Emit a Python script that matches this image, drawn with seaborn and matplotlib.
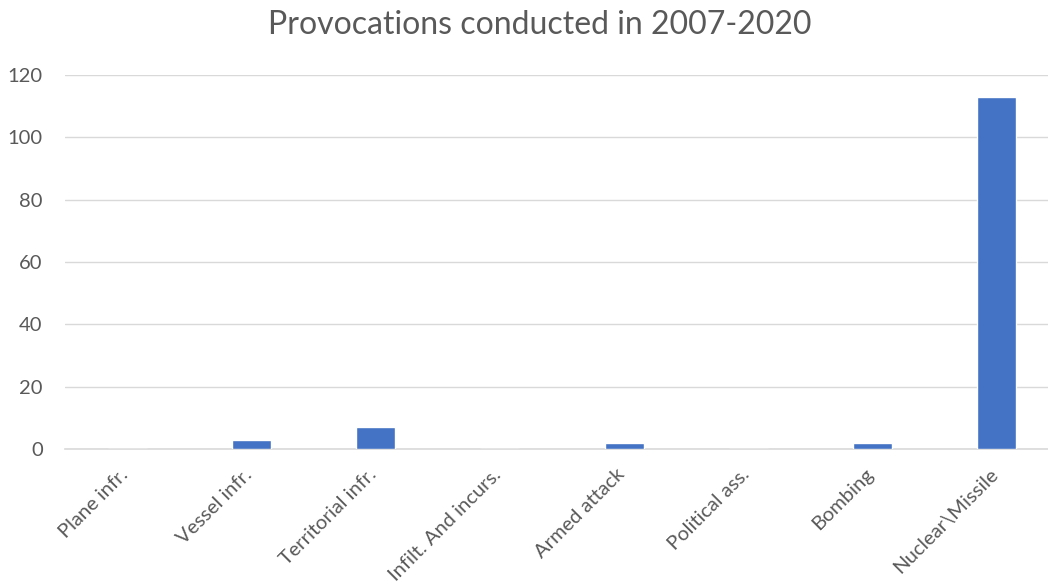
import matplotlib
matplotlib.use("Agg")
import matplotlib.pyplot as plt
import matplotlib.transforms as mtransforms
import seaborn as sns
import pandas as pd

categories = ["Plane infr.", "Vessel infr.", "Territorial infr.", "Infilt. And incurs.",
              "Armed attack", "Political ass.", "Bombing", "Nuclear\\Missile"]
counts = [0, 3, 7, 0, 2, 0, 2, 113]
y_ticks = [0, 20, 40, 60, 80, 100, 120]

sns.set_theme(style="white")
plt.rcParams["font.family"] = ["Lato", "DejaVu Sans"]

df = pd.DataFrame({"category": categories, "count": counts})

fig = plt.figure(figsize=(10.48, 5.87), dpi=100)
# plot area runs a little past the right edge of the canvas
ax = fig.add_axes([0.062, 0.235, 0.9485, 0.637])

sns.barplot(data=df, x="category", y="count", color="#4472C4", width=0.315,
            saturation=1, ax=ax, zorder=3)

ax.set_ylim(0, 120)
ax.set_yticks(y_ticks)
ax.set_yticklabels([str(v) for v in y_ticks], color="#595959", fontsize=14.5)
ax.yaxis.grid(True, color="#D9D9D9", linewidth=1, zorder=0)
ax.set_xlim(-0.5, len(categories) - 0.5)
for s in ["top", "right", "left"]:
    ax.spines[s].set_visible(False)
ax.spines["bottom"].set_color("#D9D9D9")
ax.spines["bottom"].set_linewidth(1.2)
ax.tick_params(axis="both", length=0)
ax.set_xticks(range(len(categories)))
ax.set_xticklabels(categories, rotation=45, ha="right", rotation_mode="anchor",
                   color="#595959", fontsize=14.5)
ax.tick_params(axis="x", pad=12)
ax.tick_params(axis="y", pad=16)
ax.set_xlabel("")
ax.set_ylabel("")

# nudge the slanted category labels slightly left
shift = mtransforms.ScaledTranslation(-8 / 100, 0, fig.dpi_scale_trans)
for lbl in ax.get_xticklabels():
    lbl.set_transform(lbl.get_transform() + shift)

fig.text(0.515, 0.958, "Provocations conducted in 2007-2020", ha="center", va="center",
         fontsize=23, color="#595959")

fig.savefig("out.png", dpi=100)
